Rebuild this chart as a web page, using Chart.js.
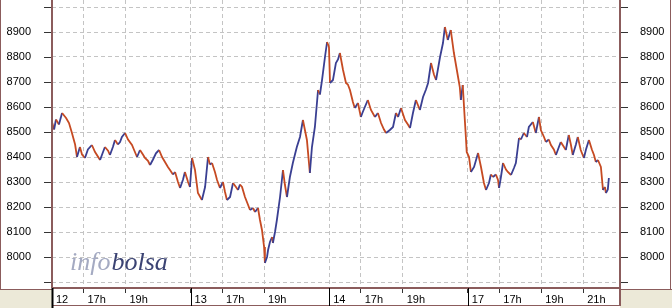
<!DOCTYPE html>
<html>
<head>
<meta charset="utf-8">
<script src="https://cdn.jsdelivr.net/npm/chart.js@4.4.0/dist/chart.umd.min.js"></script>
<style>
  html, body { margin: 0; padding: 0; background: #fff; }
  #wrap { width: 672px; height: 308px; }
</style>
</head>
<body>
<div id="wrap"><canvas id="chart" width="672" height="308"></canvas></div>
<script>
// ===============================
// DATA
// ===============================
const SESSION_SPAN = 6.6;  // axis hours given to each trading session
const OPEN_HOUR = 15.5;    // session opens 15:30

const sessions = ["12", "13", "14", "17"];

// x axis ticks: session start, then hour marks
const tickLabels  = ["12", "17h", "19h", "13", "17h", "19h", "14", "17h", "19h", "17", "17h", "19h", "21h"];
const tickSession = [0, 0, 0, 1, 1, 1, 2, 2, 2, 3, 3, 3, 3];
const tickHours   = [15.5, 17, 19, 15.5, 17, 19, 15.5, 17, 19, 15.5, 17, 19, 21];

// price axis labels
const priceLabels = [8000, 8100, 8200, 8300, 8400, 8500, 8600, 8700, 8800, 8900];

// session 12
const hours12 = [15.50, 15.60, 15.69, 15.83, 15.98, 16.17, 16.31, 16.45, 16.60, 16.69, 16.83, 16.93, 17.07, 17.21, 17.40,
  17.55, 17.79, 17.93, 18.02, 18.17, 18.26, 18.40, 18.50, 18.64, 18.74, 18.83, 18.98, 19.12, 19.31, 19.40,
  19.55, 19.69, 19.83, 19.93, 20.07, 20.17, 20.31, 20.45, 20.60, 20.74, 20.88, 21.02, 21.12, 21.26, 21.36,
  21.50, 21.60, 21.74, 21.83, 21.98, 22.07];
const prices12 = [8540, 8510, 8550, 8530, 8576, 8556, 8536, 8496, 8450, 8400, 8440, 8410, 8396, 8430, 8448,
  8420, 8388, 8420, 8440, 8425, 8408, 8440, 8468, 8450, 8460, 8480, 8496, 8470, 8448, 8430,
  8400, 8428, 8410, 8396, 8385, 8368, 8390, 8415, 8428, 8400, 8380, 8360, 8348, 8330, 8340,
  8300, 8276, 8310, 8340, 8300, 8280];

// session 13
const hours13 = [15.57, 15.71, 15.85, 16.04, 16.19, 16.33, 16.42, 16.52, 16.66, 16.76, 16.90, 17.04, 17.14, 17.23, 17.38,
  17.52, 17.66, 17.76, 17.85, 17.95, 18.09, 18.23, 18.33, 18.47, 18.57, 18.71, 18.80, 18.90, 19.00, 19.04,
  19.14, 19.19, 19.28, 19.38, 19.42, 19.52, 19.61, 19.76, 19.90, 19.99, 20.09, 20.23, 20.37, 20.47, 20.56,
  20.71, 20.85, 20.94, 21.04, 21.18, 21.28, 21.42, 21.57, 21.66, 21.76, 21.90, 22.00, 22.09];
const prices13 = [8396, 8348, 8256, 8228, 8280, 8400, 8370, 8376, 8340, 8308, 8276, 8300, 8260, 8228, 8240,
  8296, 8280, 8268, 8290, 8280, 8240, 8210, 8188, 8196, 8180, 8196, 8150, 8108, 8040, 7976,
  8000, 8028, 8060, 8080, 8056, 8100, 8148, 8240, 8348, 8290, 8240, 8320, 8376, 8410, 8440,
  8480, 8548, 8510, 8468, 8336, 8440, 8520, 8668, 8650, 8708, 8800, 8860, 8840];

// session 14
const hours14 = [15.54, 15.68, 15.82, 15.92, 16.01, 16.16, 16.30, 16.39, 16.49, 16.63, 16.72, 16.87, 17.01, 17.10, 17.20,
  17.34, 17.49, 17.68, 17.82, 17.97, 18.11, 18.21, 18.39, 18.54, 18.68, 18.78, 18.92, 19.11, 19.25, 19.35,
  19.49, 19.63, 19.82, 19.97, 20.11, 20.21, 20.35, 20.49, 20.59, 20.78, 20.92, 21.01, 21.15, 21.29, 21.44,
  21.58, 21.72, 21.77, 21.86, 21.96, 22.01, 22.05];
const prices14 = [8696, 8708, 8776, 8790, 8816, 8748, 8696, 8690, 8668, 8620, 8596, 8616, 8560, 8580, 8600,
  8628, 8588, 8560, 8576, 8536, 8510, 8496, 8508, 8520, 8576, 8560, 8596, 8548, 8530, 8516,
  8576, 8628, 8588, 8640, 8670, 8696, 8776, 8730, 8708, 8800, 8856, 8920, 8868, 8908, 8816,
  8748, 8680, 8628, 8688, 8548, 8480, 8420];

// session 17
const hours17 = [15.56, 15.65, 15.80, 15.99, 16.13, 16.27, 16.37, 16.51, 16.60, 16.70, 16.84, 16.94, 16.99, 17.08, 17.18,
  17.32, 17.41, 17.56, 17.70, 17.79, 17.94, 18.03, 18.17, 18.32, 18.41, 18.60, 18.74, 18.89, 18.98, 19.13,
  19.22, 19.36, 19.46, 19.60, 19.70, 19.84, 19.93, 20.08, 20.17, 20.31, 20.41, 20.50, 20.65, 20.74, 20.88,
  21.03, 21.13, 21.27, 21.41, 21.51, 21.60, 21.70, 21.84, 21.94, 22.03, 22.08, 22.17, 22.22];
const prices17 = [8400, 8340, 8360, 8416, 8360, 8296, 8268, 8296, 8330, 8320, 8330, 8308, 8276, 8320, 8376,
  8350, 8340, 8328, 8356, 8376, 8476, 8470, 8496, 8480, 8520, 8540, 8496, 8560, 8508, 8480,
  8460, 8470, 8448, 8430, 8408, 8440, 8460, 8440, 8428, 8488, 8450, 8408, 8450, 8480, 8428,
  8396, 8430, 8468, 8430, 8408, 8380, 8388, 8360, 8268, 8280, 8256, 8270, 8316];

const sessionHours  = [hours12, hours13, hours14, hours17];
const sessionPrices = [prices12, prices13, prices14, prices17];

// ===============================
// HELPERS
// ===============================
const UP = "#3a3f92";
const DOWN = "#c64a22";
const FRAME = "#8b5c5c";
const FONT = { family: "'Liberation Sans', Arial, sans-serif", size: 11 };

const axisPos = (s, h) => s * SESSION_SPAN + (h - OPEN_HOUR);

const points = [];
sessionHours.forEach((hrs, s) => {
  hrs.forEach((h, i) => points.push({ x: axisPos(s, h), y: sessionPrices[s][i] }));
});

const tickValues = tickLabels.map((_, i) => axisPos(tickSession[i], tickHours[i]));

const priceTicks = scale => {
  const out = [];
  for (let v = 7900; v <= 9000; v += 50) out.push({ value: v });
  scale.ticks = out;
};

// ===============================
// FRAME / WATERMARK PLUGIN
// ===============================
const framePlugin = {
  id: "frame",
  beforeDraw(chart) {
    const { ctx, chartArea: a, width, height } = chart;
    ctx.save();
    ctx.fillStyle = "#fff";
    ctx.fillRect(0, 0, width, height);
    ctx.fillStyle = "#ece9d8";
    ctx.fillRect(0, a.bottom + 2, a.left, height - a.bottom - 2);
    ctx.fillRect(a.right, a.bottom + 2, width - a.right, height - a.bottom - 2);
    ctx.restore();
  },
  beforeDatasetsDraw(chart) {
    const { ctx } = chart;
    ctx.save();
    ctx.font = "italic 26px 'Liberation Serif', 'DejaVu Serif', serif";
    ctx.textBaseline = "alphabetic";
    ctx.fillStyle = "#a4aac2";
    ctx.fillText("info", 70, 270);
    const w = ctx.measureText("info").width;
    ctx.fillStyle = "#3b4373";
    ctx.fillText("bolsa", 71 + w, 270);
    ctx.restore();
  },
  afterDraw(chart) {
    const { ctx, chartArea: a, width, height } = chart;
    const line = (x1, y1, x2, y2, color, w) => {
      ctx.beginPath();
      ctx.strokeStyle = color;
      ctx.lineWidth = w;
      ctx.moveTo(x1, y1);
      ctx.lineTo(x2, y2);
      ctx.stroke();
    };
    ctx.save();

    // price tick marks, long on the hundreds
    ["y", "y2"].forEach(id => {
      const sc = chart.scales[id];
      sc.ticks.forEach(t => {
        const py = Math.round(sc.getPixelForValue(t.value)) + 0.5;
        const len = t.value % 100 === 0 ? 8 : 3;
        if (id === "y") line(a.left - len, py, a.left, py, "#333", 1);
        else line(a.right, py, a.right + len, py, "#333", 1);
      });
    });

    // outer panels
    line(0.5, 0, 0.5, a.bottom + 2, FRAME, 1);
    line(0, a.bottom + 1.5, a.left, a.bottom + 1.5, FRAME, 1);
    line(width - 1.5, 0, width - 1.5, a.bottom + 2, FRAME, 1);
    line(a.right, a.bottom + 1.5, width, a.bottom + 1.5, FRAME, 1);

    // plot borders
    line(a.left, 0, a.left, a.bottom, FRAME, 2);
    line(a.right, 0, a.right, a.bottom, FRAME, 2);
    line(a.left, a.bottom, a.right + 1, a.bottom, FRAME, 2);

    // time strip
    line(a.left, height - 2.5, a.right + 1, height - 2.5, FRAME, 1);
    line(a.right, a.bottom, a.right, height - 2, FRAME, 2);

    // session separators
    const xs = chart.scales.x;
    sessions.forEach((_, s) => {
      const px = Math.round(xs.getPixelForValue(axisPos(s, OPEN_HOUR)));
      line(px + 0.5, a.bottom, px + 0.5, height - (s === 0 ? 0 : 2), "#000", s === 0 ? 2 : 1);
    });

    ctx.restore();
  }
};

// ===============================
// CHART
// ===============================
new Chart(document.getElementById("chart"), {
  type: "line",
  data: {
    datasets: [{
      data: points,
      borderColor: DOWN,
      borderWidth: 1.8,
      pointRadius: 0,
      tension: 0,
      segment: {
        borderColor: c => (c.p1.parsed.y >= c.p0.parsed.y ? UP : DOWN)
      }
    }]
  },
  options: {
    responsive: false,
    animation: false,
    layout: { padding: 0 },
    plugins: { legend: { display: false }, tooltip: { enabled: false } },
    scales: {
      x: {
        type: "linear",
        min: 0,
        max: 27.05,
        afterBuildTicks: s => { s.ticks = tickValues.map(v => ({ value: v })); },
        afterFit: s => { s.height = 20; s.paddingLeft = 0; s.paddingRight = 0; },
        ticks: {
          autoSkip: false,
          maxRotation: 0,
          align: "start",
          labelOffset: 4,
          padding: 0,
          color: "#000",
          font: FONT,
          callback: (v, i) => tickLabels[i]
        },
        grid: {
          color: c => (c.index === 0 ? "transparent" : "#c4c4c4"),
          tickColor: "#333",
          tickLength: 5
        },
        border: { display: false, dash: [4, 3] }
      },
      y: {
        position: "left",
        min: 7876,
        max: 9028,
        afterBuildTicks: priceTicks,
        afterFit: s => { s.width = 52; s.paddingTop = 0; s.paddingBottom = 0; },
        ticks: {
          padding: 21,
          color: "#000",
          font: FONT,
          callback: v => (priceLabels.includes(v) ? String(v) : "")
        },
        grid: {
          color: c => (c.tick && c.tick.value % 100 === 0 ? "#c4c4c4" : "transparent"),
          drawTicks: false
        },
        border: { display: false, dash: [4, 3] }
      },
      y2: {
        position: "right",
        min: 7876,
        max: 9028,
        afterBuildTicks: priceTicks,
        afterFit: s => { s.width = 52; s.paddingTop = 0; s.paddingBottom = 0; },
        ticks: {
          padding: 20,
          color: "#000",
          font: FONT,
          callback: v => (priceLabels.includes(v) ? String(v) : "")
        },
        grid: { drawOnChartArea: false, drawTicks: false },
        border: { display: false }
      }
    }
  },
  plugins: [framePlugin]
});
</script>
</body>
</html>
